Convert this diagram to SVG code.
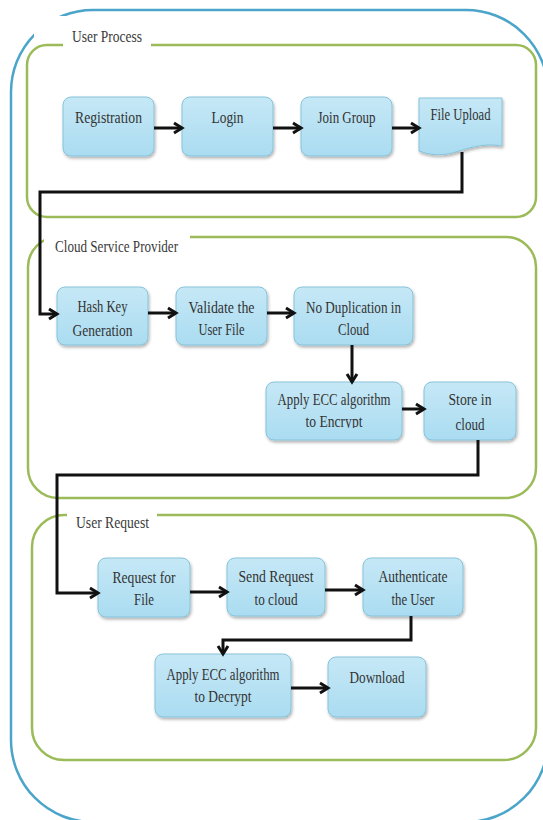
<svg xmlns="http://www.w3.org/2000/svg" width="543" height="820" viewBox="0 0 543 820">
<defs>
<linearGradient id="g" x1="0" y1="0" x2="0" y2="1"><stop offset="0" stop-color="#c6e8f6"/><stop offset="1" stop-color="#aadcf1"/></linearGradient>
<filter id="sh" x="-10%" y="-10%" width="130%" height="140%"><feDropShadow dx="1" dy="2" stdDeviation="1.5" flood-color="#000" flood-opacity="0.3"/></filter>
<marker id="ah" markerUnits="userSpaceOnUse" markerWidth="14" markerHeight="14" refX="9" refY="6" orient="auto" overflow="visible"><path d="M1,1 L9,6 L1,11" fill="none" stroke="#111" stroke-width="3"/></marker>
<clipPath id="clipEnc"><rect x="266" y="382" width="136" height="46"/></clipPath>
</defs>
<style>
.box{fill:url(#g);stroke:#86c3da;stroke-width:1;filter:url(#sh)}
.t{font-family:"Liberation Serif",serif;font-size:16.5px;fill:#333;text-anchor:middle}
.lbl{font-family:"Liberation Serif",serif;font-size:16.5px;fill:#3a3a3a}
.conn{fill:none;stroke:#111;stroke-width:3;marker-end:url(#ah)}
.blue{fill:none;stroke:#4ba4c9;stroke-width:2.5}
.green{fill:none;stroke:#9bbb59;stroke-width:2.5}
.gap{fill:#fff}
</style>

<g id="outer">
<rect class="blue" x="11" y="10" width="537" height="812" rx="82"/>
<rect class="gap" x="34" y="16" width="117" height="30"/>
</g>

<g id="group-user-process">
<rect class="green" x="27" y="45" width="509" height="172" rx="20"/>
<rect class="gap" x="63" y="38" width="88" height="14"/>
<text class="lbl" x="72" y="42" textLength="70" lengthAdjust="spacingAndGlyphs">User Process</text>
</g>

<g id="group-cloud">
<rect class="green" x="28" y="237" width="508" height="261" rx="30"/>
<rect class="gap" x="44" y="228" width="146" height="16"/>
<text class="lbl" x="55" y="252" textLength="123" lengthAdjust="spacingAndGlyphs">Cloud Service Provider</text>
</g>

<g id="group-user-request">
<rect class="green" x="32" y="515" width="504" height="245" rx="32"/>
<rect class="gap" x="67" y="506" width="90" height="16"/>
<text class="lbl" x="76" y="528" textLength="73" lengthAdjust="spacingAndGlyphs">User Request</text>
</g>

<g id="registration">
<rect class="box" x="63" y="97" width="91" height="59" rx="8"/>
<text class="t" x="108.5" y="123" textLength="67" lengthAdjust="spacingAndGlyphs">Registration</text>
</g>
<g id="login">
<rect class="box" x="182" y="97" width="91" height="59" rx="8"/>
<text class="t" x="227.5" y="123" textLength="32" lengthAdjust="spacingAndGlyphs">Login</text>
</g>
<g id="join-group">
<rect class="box" x="301" y="97" width="91" height="59" rx="8"/>
<text class="t" x="346.5" y="123" textLength="58" lengthAdjust="spacingAndGlyphs">Join Group</text>
</g>
<g id="file-upload">
<path class="box" d="M419,98 H502 V146 C486,143 472,147 459,151 C445,156 432,156 419,151 Z"/>
<text class="t" x="460.5" y="120" textLength="60" lengthAdjust="spacingAndGlyphs">File Upload</text>
</g>

<g id="hash-key">
<rect class="box" x="57" y="287" width="91" height="58" rx="8"/>
<text class="t" x="102.5" y="312" textLength="50" lengthAdjust="spacingAndGlyphs">Hash Key</text>
<text class="t" x="102.5" y="336" textLength="60" lengthAdjust="spacingAndGlyphs">Generation</text>
</g>
<g id="validate">
<rect class="box" x="176" y="287" width="91" height="58" rx="8"/>
<text class="t" x="221.5" y="313" textLength="66" lengthAdjust="spacingAndGlyphs">Validate the</text>
<text class="t" x="221.5" y="335" textLength="46" lengthAdjust="spacingAndGlyphs">User File</text>
</g>
<g id="no-duplication">
<rect class="box" x="294" y="287" width="119" height="58" rx="8"/>
<text class="t" x="353.5" y="313" textLength="95" lengthAdjust="spacingAndGlyphs">No Duplication in</text>
<text class="t" x="353.5" y="335" textLength="31" lengthAdjust="spacingAndGlyphs">Cloud</text>
</g>
<g id="apply-ecc-encrypt">
<rect class="box" x="266" y="382" width="136" height="58" rx="8"/>
<text class="t" x="334" y="405" textLength="113" lengthAdjust="spacingAndGlyphs">Apply ECC algorithm</text>
<text class="t" x="334" y="427" textLength="57" lengthAdjust="spacingAndGlyphs" clip-path="url(#clipEnc)">to Encrypt</text>
</g>
<g id="store-in-cloud">
<rect class="box" x="424" y="382" width="92" height="58" rx="8"/>
<text class="t" x="470" y="405" textLength="43" lengthAdjust="spacingAndGlyphs">Store in</text>
<text class="t" x="470" y="430" textLength="29" lengthAdjust="spacingAndGlyphs">cloud</text>
</g>

<g id="request-for-file">
<rect class="box" x="98" y="558" width="92" height="59" rx="8"/>
<text class="t" x="144" y="583" textLength="63" lengthAdjust="spacingAndGlyphs">Request for</text>
<text class="t" x="144" y="605" textLength="20" lengthAdjust="spacingAndGlyphs">File</text>
</g>
<g id="send-request">
<rect class="box" x="227" y="558" width="98" height="58" rx="8"/>
<text class="t" x="276" y="582" textLength="75" lengthAdjust="spacingAndGlyphs">Send Request</text>
<text class="t" x="276" y="605" textLength="43" lengthAdjust="spacingAndGlyphs">to cloud</text>
</g>
<g id="authenticate">
<rect class="box" x="363" y="558" width="100" height="58" rx="8"/>
<text class="t" x="413" y="582" textLength="69" lengthAdjust="spacingAndGlyphs">Authenticate</text>
<text class="t" x="413" y="605" textLength="43" lengthAdjust="spacingAndGlyphs">the User</text>
</g>
<g id="apply-ecc-decrypt">
<rect class="box" x="155" y="654" width="136" height="63" rx="8"/>
<text class="t" x="223" y="680" textLength="113" lengthAdjust="spacingAndGlyphs">Apply ECC algorithm</text>
<text class="t" x="223" y="702" textLength="57" lengthAdjust="spacingAndGlyphs">to Decrypt</text>
</g>
<g id="download">
<rect class="box" x="328" y="657" width="98" height="60" rx="8"/>
<text class="t" x="377" y="683" textLength="55" lengthAdjust="spacingAndGlyphs">Download</text>
</g>

<g id="connectors">
<path class="conn" d="M154,128 H182"/>
<path class="conn" d="M273,128 H301"/>
<path class="conn" d="M392,128 H419"/>
<path class="conn" d="M462,152 V192 H40 V314 H57"/>
<path class="conn" d="M148,313 H176"/>
<path class="conn" d="M267,313 H294"/>
<path class="conn" d="M352,345 V382"/>
<path class="conn" d="M402,409 H424"/>
<path class="conn" d="M478,440 V475 H57 V593 H98"/>
<path class="conn" d="M190,592 H227"/>
<path class="conn" d="M325,590 H363"/>
<path class="conn" d="M411,616 V640 H223 V654"/>
<path class="conn" d="M291,688 H328"/>
</g>
</svg>
